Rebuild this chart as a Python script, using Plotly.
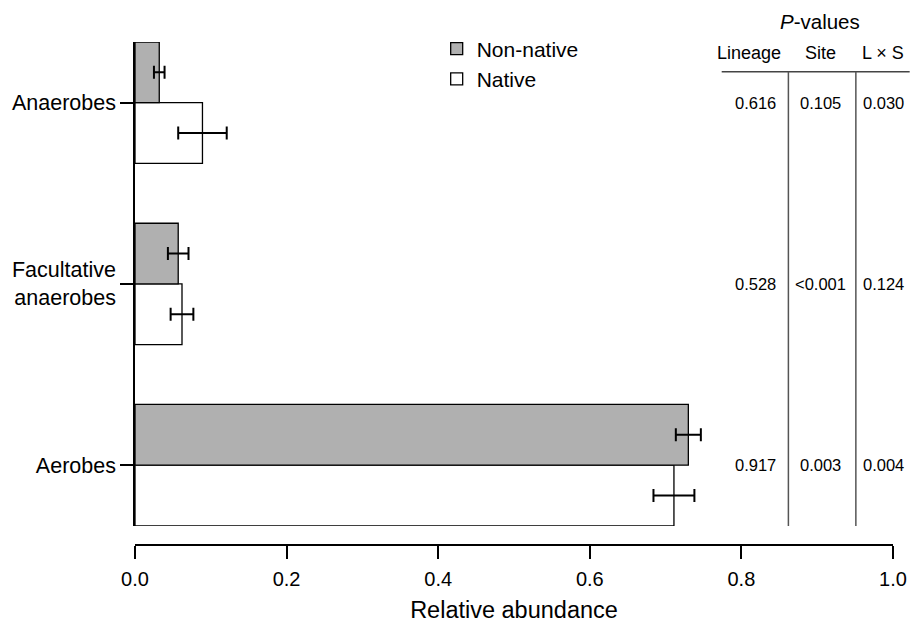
import plotly.graph_objects as go

# ---- data ----
categories = ["Aerobes", "Facultative<br>anaerobes", "Anaerobes"]
non_native = [0.730, 0.057, 0.032]
non_native_err = [0.0165, 0.0136, 0.007]
native = [0.711, 0.062, 0.089]
native_err = [0.027, 0.015, 0.032]

p_lineage = ["0.917", "0.528", "0.616"]
p_site = ["0.003", "<0.001", "0.105"]
p_lxs = ["0.004", "0.124", "0.030"]
p_headers = ["Lineage", "Site", "L × S"]

FONT = "Liberation Sans, Arial, sans-serif"
GRAY = "#b0b0b0"

fig = go.Figure()
fig.add_trace(go.Bar(
    name="Native", y=categories, x=native, orientation="h",
    marker=dict(color="white", line=dict(color="black", width=1.3)),
    error_x=dict(type="data", array=native_err, color="black", thickness=2, width=6.5),
))
fig.add_trace(go.Bar(
    name="Non-native", y=categories, x=non_native, orientation="h",
    marker=dict(color=GRAY, line=dict(color="black", width=1.3)),
    error_x=dict(type="data", array=non_native_err, color="black", thickness=2, width=6.5),
))

# P-value table
col_x = [0.818, 0.904, 0.988]
head_x = [0.810, 0.904, 0.987]
for cols, cx in zip([p_lineage, p_site, p_lxs], col_x):
    for cat, val in zip(categories, cols):
        fig.add_annotation(x=cx, y=cat, xref="paper", yref="y", text=val,
                           showarrow=False, font=dict(size=16.5, color="black", family=FONT),
                           xanchor="center", yanchor="middle")
for h, hx in zip(p_headers, head_x):
    fig.add_annotation(x=hx, y=0.9775, xref="paper", yref="paper", text=h,
                       showarrow=False, font=dict(size=18, color="black", family=FONT),
                       xanchor="center", yanchor="middle")
fig.add_annotation(x=0.904, y=1.040, xref="paper", yref="paper", text="<i>P</i>-values",
                   showarrow=False, font=dict(size=20.5, color="black", family=FONT),
                   xanchor="center", yanchor="middle")

ydom0 = 0.038
fig.add_shape(type="line", xref="paper", yref="paper", x0=0.774, x1=1.022, y0=0.941, y1=0.941,
              line=dict(color="#444", width=1.5))
for vx in [0.862, 0.951]:
    fig.add_shape(type="line", xref="paper", yref="paper", x0=vx, x1=vx, y0=ydom0, y1=0.941,
                  line=dict(color="#555", width=1.5))

fig.update_layout(
    width=911, height=623,
    margin=dict(l=135, r=18, t=42, b=78, autoexpand=False),
    paper_bgcolor="white", plot_bgcolor="white",
    font=dict(family=FONT, color="black"),
    barmode="group", bargap=0.33, bargroupgap=0,
    showlegend=True,
    legend=dict(x=0.398, y=1.027, xanchor="left", yanchor="top", traceorder="reversed",
                font=dict(size=21, family=FONT), bgcolor="rgba(0,0,0,0)", borderwidth=0,
                tracegroupgap=0),
    xaxis=dict(range=[0, 1], tickvals=[0, 0.2, 0.4, 0.6, 0.8, 1.0], tickformat=".1f",
               ticks="outside", ticklen=13, tickwidth=1.5, tickcolor="black",
               showline=True, linewidth=1.5, linecolor="black", showgrid=False, zeroline=False,
               anchor="free", position=0, tickfont=dict(size=20), ticklabelstandoff=3,
               automargin=False,
               title=dict(text="Relative abundance", font=dict(size=23.5), standoff=29)),
    yaxis=dict(domain=[ydom0, 1], range=[-0.335, 2.335], type="category",
               categoryorder="array", categoryarray=categories,
               ticks="outside", ticklen=13, tickwidth=1.5, tickcolor="black",
               showline=True, linewidth=1.5, linecolor="black", showgrid=False, zeroline=False,
               tickfont=dict(size=21.5), automargin=False),
)

fig.write_html("out.html", config={"displayModeBar": False},
               post_script="document.body.style.margin='0';document.body.style.overflow='hidden';")
